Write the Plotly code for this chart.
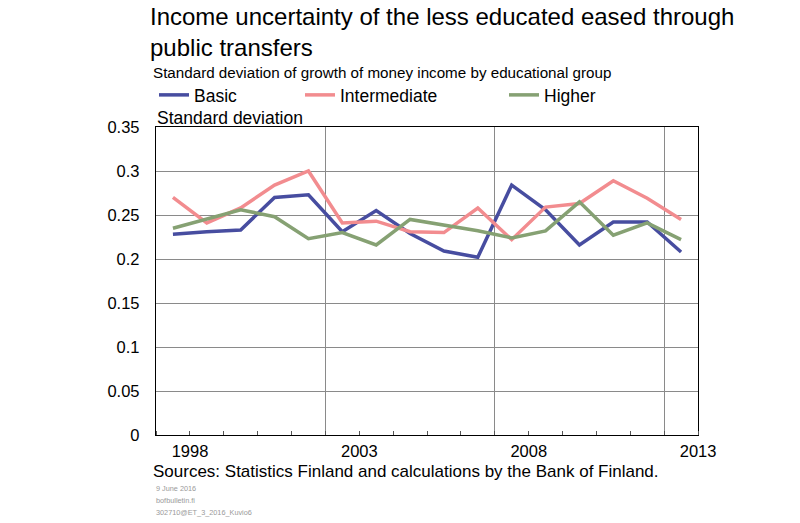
import plotly.graph_objects as go

# Standard deviation of growth of money income by educational group
years = list(range(1997, 2013))
basic = [0.228, 0.231, 0.233, 0.270, 0.273, 0.231, 0.255, 0.229,
         0.209, 0.202, 0.284, 0.256, 0.216, 0.242, 0.242, 0.208]
intermediate = [0.270, 0.241, 0.258, 0.284, 0.300, 0.241, 0.243, 0.231,
                0.230, 0.258, 0.222, 0.259, 0.263, 0.289, 0.269, 0.245]
higher = [0.235, 0.245, 0.256, 0.248, 0.223, 0.230, 0.216, 0.245,
          0.239, 0.232, 0.224, 0.232, 0.265, 0.227, 0.241, 0.222]

grid_pos = [1996.5, 2001.5, 2006.5, 2011.5]
tick_labels = ["1998", "2003", "2008", "2013"]
footer = ["9 June 2016", "bofbulletin.fi", "302710@ET_3_2016_Kuvio6"]

font = "Liberation Sans, Arial, sans-serif"
colors = {"Basic": "#474DA0", "Intermediate": "#F28C8F", "Higher": "#86A173"}

# plot area in pixels: x 156..698, y 127..435
def px(x):
    return (x - 156) / 542

def py(y):
    return (435 - y) / 308

fig = go.Figure()
fig.add_trace(go.Scatter(x=years, y=basic, name="Basic", mode="lines",
                         line=dict(color=colors["Basic"], width=3.5), legend="legend"))
fig.add_trace(go.Scatter(x=years, y=intermediate, name="Intermediate", mode="lines",
                         line=dict(color=colors["Intermediate"], width=3.5), legend="legend2"))
fig.add_trace(go.Scatter(x=years, y=higher, name="Higher", mode="lines",
                         line=dict(color=colors["Higher"], width=3.5), legend="legend3"))

leg = dict(orientation="h", xanchor="left", yanchor="middle", y=py(95),
           bgcolor="rgba(0,0,0,0)", font=dict(size=17.5, color="black"),
           itemwidth=30, tracegroupgap=0, visible=True)
fig.update_layout(
    width=800, height=523,
    margin=dict(l=156, r=102, t=127, b=88),
    paper_bgcolor="white", plot_bgcolor="white",
    font=dict(family=font, size=16, color="black"),
    showlegend=True,
    legend=dict(leg, x=px(154)),
    legend2=dict(leg, x=px(300)),
    legend3=dict(leg, x=px(504)),
)

fig.update_xaxes(range=[1996.5, 2012.5], tickvals=grid_pos, ticktext=tick_labels,
                 ticklabelshift=34, ticklabelstandoff=1, ticks="", showgrid=True,
                 gridcolor="#8a8a8a", gridwidth=1.3, zeroline=False,
                 showline=True, linecolor="black", linewidth=1.3, mirror=True,
                 minor=dict(tick0=1996.5, dtick=1, ticks="inside", ticklen=4,
                            tickcolor="#555", showgrid=False),
                 tickfont=dict(size=16.5))
fig.update_yaxes(range=[0, 0.35], dtick=0.05, showgrid=True, gridcolor="#8a8a8a",
                 gridwidth=1.3, zeroline=False, showline=True, linecolor="black",
                 linewidth=1.3, mirror=True, ticks="", ticklabelstandoff=12,
                 tickfont=dict(size=16.5))

fig.add_annotation(text="Income uncertainty of the less educated eased through<br>public transfers",
                   xref="paper", yref="paper", x=px(148), y=py(32), xanchor="left",
                   yanchor="middle", align="left", showarrow=False, font=dict(size=24))
fig.add_annotation(text="Standard deviation of growth of money income by educational group",
                   xref="paper", yref="paper", x=px(151), y=py(72),
                   xanchor="left", yanchor="middle", showarrow=False, font=dict(size=15.2))
fig.add_annotation(text="Standard deviation", xref="paper", yref="paper",
                   x=px(155), y=py(118), xanchor="left",
                   yanchor="middle", showarrow=False, font=dict(size=17.5))
fig.add_annotation(text="Sources: Statistics Finland and calculations by the Bank of Finland.",
                   xref="paper", yref="paper", x=px(151), y=py(471),
                   xanchor="left", yanchor="middle", showarrow=False, font=dict(size=17))
for i, line in enumerate(footer):
    fig.add_annotation(text=line, xref="paper", yref="paper", x=px(154),
                       y=py(488 + 12 * i), xanchor="left", yanchor="middle",
                       showarrow=False, font=dict(size=7.3, color="#9a9a9a"))

fig.write_html("out.html", config={"displayModeBar": False},
               post_script="document.body.style.margin='0';")
